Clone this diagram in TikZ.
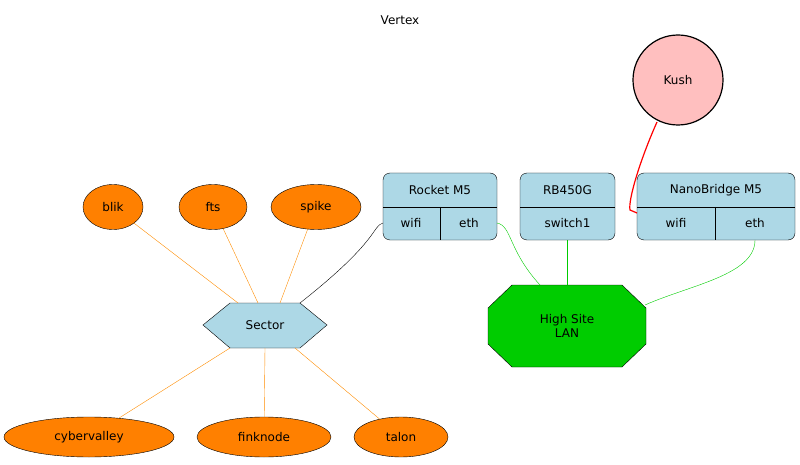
\documentclass[tikz,border=0pt]{standalone}
\usepackage{fontspec}
\setmainfont{DejaVu Sans}
\usetikzlibrary{shapes.geometric}
\definecolor{recblue}{HTML}{ADD8E6}
\definecolor{lanGreen}{HTML}{00CC00}
\tikzstyle{leaf} = [draw=black, ellipse, fill=orange, inner sep=0pt, font=\fontsize{12}{14}\selectfont]
\tikzstyle{rec} = [draw=black, rounded corners=7pt, fill=recblue, inner sep=0pt]
\tikzstyle{cell} = [inner sep=0pt, font=\fontsize{12}{14}\selectfont]
\tikzstyle{oedge} = [draw=orange!90!yellow, thin]
\tikzstyle{gedge} = [draw=green!80!black, thin]

\begin{document}
\begin{tikzpicture}[x=1pt,y=-1pt]
\useasboundingbox (0,0) rectangle (800,465);
\node[cell] (title) at (400,20) {Vertex};

% leaves
\node[leaf, minimum width=60, minimum height=45] (blik) at (113,207) {blik};
\node[leaf, minimum width=68, minimum height=45] (fts) at (213,207) {fts};
\node[leaf, minimum width=90, minimum height=45] (spike) at (316,207) {spike};
\node[leaf, minimum width=170, minimum height=40] (cybervalley) at (89,437) {cybervalley};
\node[leaf, minimum width=134, minimum height=40] (finknode) at (264,437) {finknode};
\node[leaf, minimum width=94, minimum height=40] (talon) at (401,437) {talon};

% sector hexagon
\filldraw[fill=recblue, draw=black] (203,325) -- (230,303) -- (300,303) -- (327,325) -- (300,348) -- (230,348) -- cycle;
\node[cell, minimum width=124, minimum height=45] (sector) at (265,325) {Sector};

% kush
\node[circle, draw=black, very thick, fill=pink, minimum size=90, cell] (kush) at (678,80) {Kush};

% rocket record
\node[rec, minimum width=114, minimum height=67] (rocket) at (440,206.5) {};
\draw (383,207) -- (497,207) (440,207) -- (440,240);
\node[cell] (rtitle) at (440,190) {Rocket M5};
\node[cell] (rwifi) at (411,223) {wifi};
\node[cell] (reth) at (469,223) {eth};

% rb450g record
\node[rec, minimum width=95, minimum height=67] (rb) at (567.5,206.5) {};
\draw (520,207) -- (615,207);
\node[cell] (rbtitle) at (567.5,190) {RB450G};
\node[cell] (rbsw) at (567.5,223) {switch1};

% nanobridge record
\node[rec, minimum width=158, minimum height=67] (nano) at (716,206.5) {};
\draw (637,207) -- (795,207) (715,207) -- (715,240);
\node[cell] (ntitle) at (716,190) {NanoBridge M5};
\node[cell] (nwifi) at (676,223) {wifi};
\node[cell] (neth) at (755,223) {eth};

% high site lan octagon
\filldraw[fill=lanGreen, draw=black] (488,308) -- (512,285) -- (622,285) -- (646,308) -- (646,344) -- (622,367) -- (512,367) -- (488,344) -- cycle;
\node[cell, align=center, minimum width=158, minimum height=82] (lan) at (567,326) {High Site\\LAN};

% connectors
\coordinate (rwifiw) at (383,223);
\coordinate (rethe) at (497,223);
\coordinate (nwifiw) at (637,213);
\draw[oedge] (blik) -- (238,303);
\draw[oedge] (fts) -- (258,303);
\draw[oedge] (spike) -- (280,303);
\draw[oedge] (230,348) -- (cybervalley);
\draw[oedge] (265,348) -- (finknode);
\draw[oedge] (295,348) -- (talon);
\draw (rwifiw) .. controls (372,226) and (380,240) .. (300,303);
\draw[gedge] (rethe) .. controls (512,226) and (508,250) .. (540,285);
\draw[gedge] (567,240) -- (567,285);
\draw[gedge] (755,240) .. controls (755,275) and (690,285) .. (645,305);
\draw[red, very thick] (657,122) .. controls (640,160) and (628,200) .. (630,210) -- (nwifiw);
\end{tikzpicture}
\end{document}
